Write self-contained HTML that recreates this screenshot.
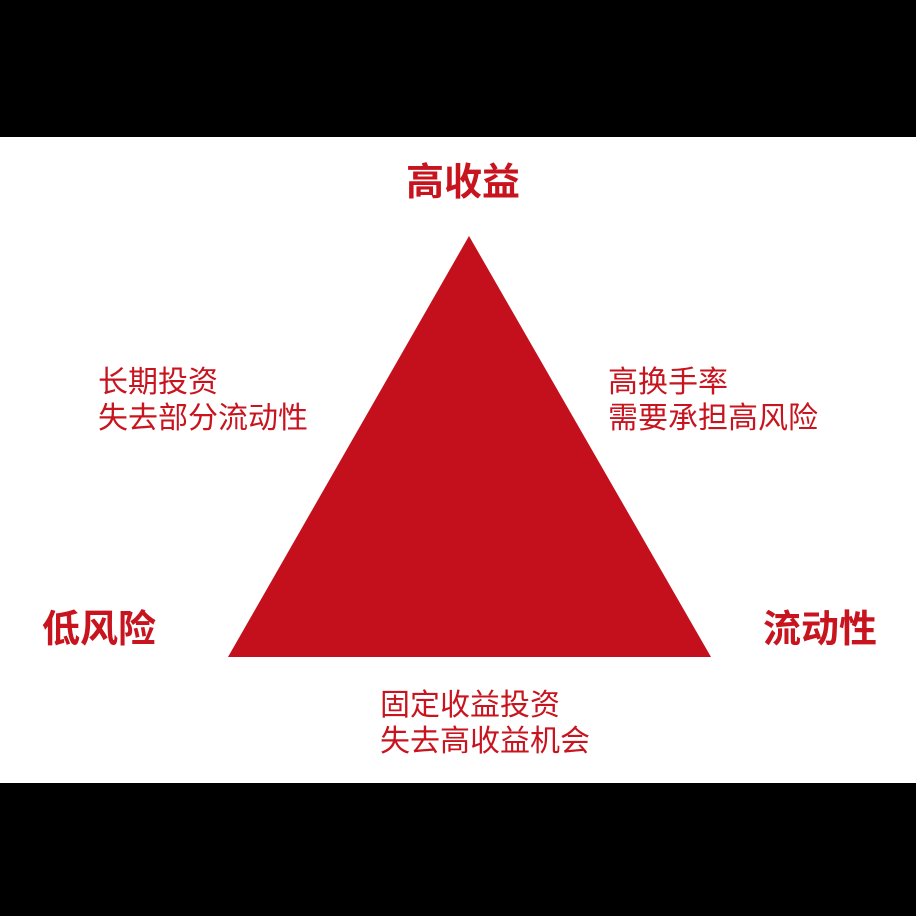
<!DOCTYPE html>
<html><head><meta charset="utf-8"><style>
body{margin:0;width:916px;height:916px;background:#000;position:relative;overflow:hidden;font-family:"Liberation Sans","Noto Sans CJK SC",sans-serif;}
.w{position:absolute;left:0;top:137px;width:916px;height:646px;background:#fff;}
.t{position:absolute;color:#c8141e;white-space:nowrap;line-height:1;}
.b{font-weight:bold;font-size:38px;}
.s{font-size:30px;line-height:36px;}
</style></head><body>
<div class="w"></div>
<svg style="position:absolute;left:0;top:0" width="916" height="916"><polygon points="469,236 228,657 711,657" fill="#c3101c"/></svg>
<div class="t b" style="left:406px;top:164px">高收益</div>
<div class="t b" style="left:42px;top:611px">低风险</div>
<div class="t b" style="left:763px;top:611px">流动性</div>
<div class="t s" style="left:98px;top:365px">长期投资<br>失去部分流动性</div>
<div class="t s" style="left:608px;top:365px">高换手率<br>需要承担高风险</div>
<div class="t s" style="left:380px;top:688px">固定收益投资<br>失去高收益机会</div>
</body></html>
